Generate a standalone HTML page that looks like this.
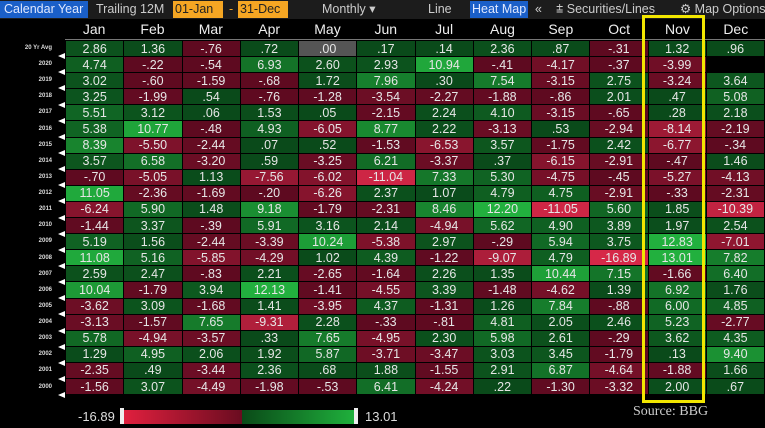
<!DOCTYPE html>
<html><head><meta charset="utf-8"><style>
body{margin:0;width:765px;height:428px;background:#000;overflow:hidden;font-family:"Liberation Sans",sans-serif;position:relative}
.tb{position:absolute;top:0;left:0;width:765px;height:19px;background:#1c1c1c;font-size:12.5px;color:#ccc}
.tb span{position:absolute;top:1px;height:17px;line-height:17px;white-space:nowrap}
.hdr{position:absolute;top:20px;left:65px;width:700px;height:19px;display:flex;border-bottom:1px solid #777}
.hdr div{flex:1;text-align:center;color:#eee;font-size:14px;line-height:19px}
table{position:absolute;left:65px;top:40px;width:700px;border-collapse:collapse;table-layout:fixed}
td{height:15.1px;padding:0;border:1px solid #000;text-align:center;color:#e6e6e6;font-size:12.5px;line-height:14px}
.yl{position:absolute;left:0;width:52px;text-align:right;color:#ddd;font-size:6px;font-weight:bold}
.tri{position:absolute;left:58px;width:0;height:0;border-top:3px solid transparent;border-bottom:3px solid transparent;border-right:7px solid #fff}
.box{position:absolute;left:642px;top:15px;width:57px;height:382px;border:3px solid #f2e600}
</style></head><body>
<div class="tb">
<span style="left:0;width:84px;background:#1a5fc8;color:#dfe8ff;padding-left:4px">Calendar Year</span>
<span style="left:96px">Trailing 12M</span>
<span style="left:173px;width:48px;background:#f5a623;color:#222;padding-left:2px">01-Jan</span>
<span style="left:229px;color:#f5a623">-</span>
<span style="left:238px;width:48px;background:#f5a623;color:#222;padding-left:2px">31-Dec</span>
<span style="left:322px">Monthly ▾</span>
<span style="left:428px">Line</span>
<span style="left:470px;width:56px;background:#1a5fc8;color:#dfe8ff;padding-left:2px">Heat Map</span>
<span style="left:535px">«</span>
<span style="left:556px">⩲ Securities/Lines</span>
<span style="left:680px">⚙ Map Options</span>
</div>
<div class="hdr"><div>Jan</div><div>Feb</div><div>Mar</div><div>Apr</div><div>May</div><div>Jun</div><div>Jul</div><div>Aug</div><div>Sep</div><div>Oct</div><div>Nov</div><div>Dec</div></div>
<div id="yl"></div>
<table id="t">
<tr><td>2.86</td><td>1.36</td><td>-.76</td><td>.72</td><td>.00</td><td>.17</td><td>.14</td><td>2.36</td><td>.87</td><td>-.31</td><td>1.32</td><td>.96</td></tr>
<tr><td>4.74</td><td>-.22</td><td>-.54</td><td>6.93</td><td>2.60</td><td>2.93</td><td>10.94</td><td>-.41</td><td>-4.17</td><td>-.37</td><td>-3.99</td><td></td></tr>
<tr><td>3.02</td><td>-.60</td><td>-1.59</td><td>-.68</td><td>1.72</td><td>7.96</td><td>.30</td><td>7.54</td><td>-3.15</td><td>2.75</td><td>-3.24</td><td>3.64</td></tr>
<tr><td>3.25</td><td>-1.99</td><td>.54</td><td>-.76</td><td>-1.28</td><td>-3.54</td><td>-2.27</td><td>-1.88</td><td>-.86</td><td>2.01</td><td>.47</td><td>5.08</td></tr>
<tr><td>5.51</td><td>3.12</td><td>.06</td><td>1.53</td><td>.05</td><td>-2.15</td><td>2.24</td><td>4.10</td><td>-3.15</td><td>-.65</td><td>.28</td><td>2.18</td></tr>
<tr><td>5.38</td><td>10.77</td><td>-.48</td><td>4.93</td><td>-6.05</td><td>8.77</td><td>2.22</td><td>-3.13</td><td>.53</td><td>-2.94</td><td>-8.14</td><td>-2.19</td></tr>
<tr><td>8.39</td><td>-5.50</td><td>-2.44</td><td>.07</td><td>.52</td><td>-1.53</td><td>-6.53</td><td>3.57</td><td>-1.75</td><td>2.42</td><td>-6.77</td><td>-.34</td></tr>
<tr><td>3.57</td><td>6.58</td><td>-3.20</td><td>.59</td><td>-3.25</td><td>6.21</td><td>-3.37</td><td>.37</td><td>-6.15</td><td>-2.91</td><td>-.47</td><td>1.46</td></tr>
<tr><td>-.70</td><td>-5.05</td><td>1.13</td><td>-7.56</td><td>-6.02</td><td>-11.04</td><td>7.33</td><td>5.30</td><td>-4.75</td><td>-.45</td><td>-5.27</td><td>-4.13</td></tr>
<tr><td>11.05</td><td>-2.36</td><td>-1.69</td><td>-.20</td><td>-6.26</td><td>2.37</td><td>1.07</td><td>4.79</td><td>4.75</td><td>-2.91</td><td>-.33</td><td>-2.31</td></tr>
<tr><td>-6.24</td><td>5.90</td><td>1.48</td><td>9.18</td><td>-1.79</td><td>-2.31</td><td>8.46</td><td>12.20</td><td>-11.05</td><td>5.60</td><td>1.85</td><td>-10.39</td></tr>
<tr><td>-1.44</td><td>3.37</td><td>-.39</td><td>5.91</td><td>3.16</td><td>2.14</td><td>-4.94</td><td>5.62</td><td>4.90</td><td>3.89</td><td>1.97</td><td>2.54</td></tr>
<tr><td>5.19</td><td>1.56</td><td>-2.44</td><td>-3.39</td><td>10.24</td><td>-5.38</td><td>2.97</td><td>-.29</td><td>5.94</td><td>3.75</td><td>12.83</td><td>-7.01</td></tr>
<tr><td>11.08</td><td>5.16</td><td>-5.85</td><td>-4.29</td><td>1.02</td><td>4.39</td><td>-1.22</td><td>-9.07</td><td>4.79</td><td>-16.89</td><td>13.01</td><td>7.82</td></tr>
<tr><td>2.59</td><td>2.47</td><td>-.83</td><td>2.21</td><td>-2.65</td><td>-1.64</td><td>2.26</td><td>1.35</td><td>10.44</td><td>7.15</td><td>-1.66</td><td>6.40</td></tr>
<tr><td>10.04</td><td>-1.79</td><td>3.94</td><td>12.13</td><td>-1.41</td><td>-4.55</td><td>3.39</td><td>-1.48</td><td>-4.62</td><td>1.39</td><td>6.92</td><td>1.76</td></tr>
<tr><td>-3.62</td><td>3.09</td><td>-1.68</td><td>1.41</td><td>-3.95</td><td>4.37</td><td>-1.31</td><td>1.26</td><td>7.84</td><td>-.88</td><td>6.00</td><td>4.85</td></tr>
<tr><td>-3.13</td><td>-1.57</td><td>7.65</td><td>-9.31</td><td>2.28</td><td>-.33</td><td>-.81</td><td>4.81</td><td>2.05</td><td>2.46</td><td>5.23</td><td>-2.77</td></tr>
<tr><td>5.78</td><td>-4.94</td><td>-3.57</td><td>.33</td><td>7.65</td><td>-4.95</td><td>2.30</td><td>5.98</td><td>2.61</td><td>-.29</td><td>3.62</td><td>4.35</td></tr>
<tr><td>1.29</td><td>4.95</td><td>2.06</td><td>1.92</td><td>5.87</td><td>-3.71</td><td>-3.47</td><td>3.03</td><td>3.45</td><td>-1.79</td><td>.13</td><td>9.40</td></tr>
<tr><td>-2.35</td><td>.49</td><td>-3.44</td><td>2.36</td><td>.68</td><td>1.88</td><td>-1.55</td><td>2.91</td><td>6.87</td><td>-4.64</td><td>-1.88</td><td>1.66</td></tr>
<tr><td>-1.56</td><td>3.07</td><td>-4.49</td><td>-1.98</td><td>-.53</td><td>6.41</td><td>-4.24</td><td>.22</td><td>-1.30</td><td>-3.32</td><td>2.00</td><td>.67</td></tr>
</table>
<div class="box"></div>
<div style="position:absolute;left:78px;top:409px;color:#ddd;font-size:13px">-16.89</div>
<div style="position:absolute;left:120px;top:408px;width:4px;height:16px;background:#eee"></div>
<div style="position:absolute;left:124px;top:410px;width:118px;height:14px;background:linear-gradient(90deg,#e0203e,#6a0c20)"></div>
<div style="position:absolute;left:242px;top:410px;width:112px;height:14px;background:linear-gradient(90deg,#0a4a18,#1fb03c)"></div>
<div style="position:absolute;left:354px;top:408px;width:4px;height:16px;background:#eee"></div>
<div style="position:absolute;left:365px;top:409px;color:#ddd;font-size:13px">13.01</div>
<div style="position:absolute;left:633px;top:404px;color:#ccc;font-size:14px;font-family:'Liberation Serif',serif">Source: BBG</div>
<div id="yl2">
<div class="yl" style="top:45px">20 Yr Avg</div>
<div class="yl" style="top:61px">2020</div><div class="yl" style="top:77px">2019</div><div class="yl" style="top:93px">2018</div><div class="yl" style="top:109px">2017</div><div class="yl" style="top:126px">2016</div><div class="yl" style="top:142px">2015</div><div class="yl" style="top:158px">2014</div><div class="yl" style="top:174px">2013</div><div class="yl" style="top:190px">2012</div><div class="yl" style="top:206px">2011</div><div class="yl" style="top:222px">2010</div><div class="yl" style="top:238px">2009</div><div class="yl" style="top:255px">2008</div><div class="yl" style="top:271px">2007</div><div class="yl" style="top:287px">2006</div><div class="yl" style="top:303px">2005</div><div class="yl" style="top:319px">2004</div><div class="yl" style="top:335px">2003</div><div class="yl" style="top:351px">2002</div><div class="yl" style="top:367px">2001</div><div class="yl" style="top:384px">2000</div>
</div>
<script>
var tris='';for(var i=1;i<=22;i++){tris+='<div class="tri" style="top:'+(40+i*16.14-3)+'px"></div>';}
document.getElementById('yl').innerHTML=tris;
function mix(a,b,t){return 'rgb('+a.map(function(x,i){return Math.round(x+(b[i]-x)*t)}).join(',')+')';}
var tds=document.querySelectorAll('#t td');
tds.forEach(function(c){var s=c.textContent;if(s===''){c.style.background='#000';return;}var v=parseFloat(s);
if(v===0){c.style.background='#555';return;}
var t=Math.min(Math.abs(v)/11.5,1);t=Math.pow(t,1.8);
c.style.background=v>0?mix([10,74,26],[34,176,62],t):mix([94,10,32],[214,40,72],t);});
</script>
</body></html>
